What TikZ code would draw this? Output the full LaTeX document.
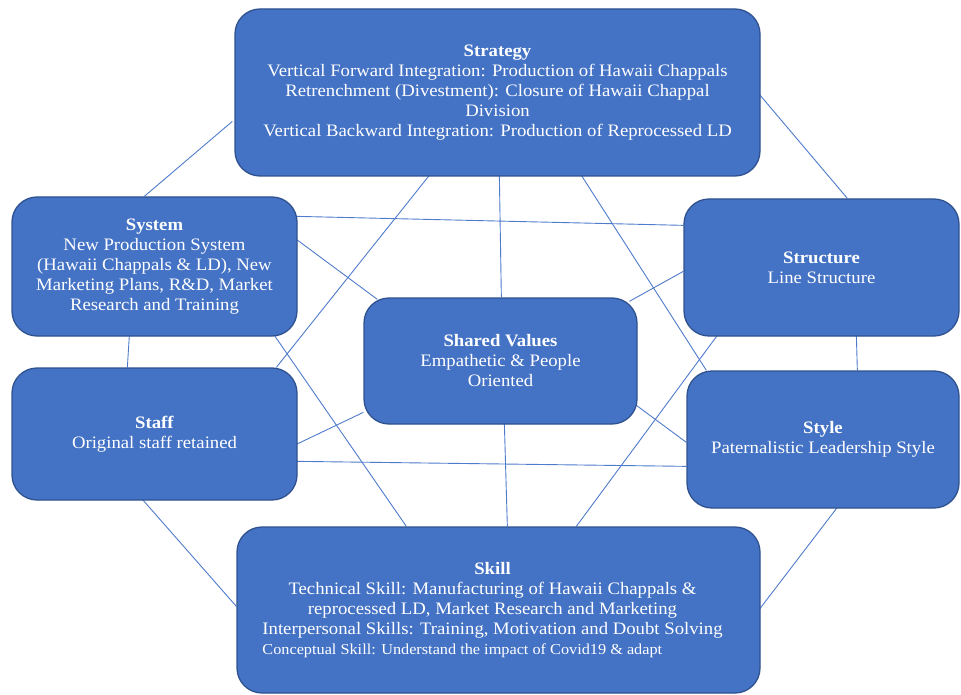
\documentclass[tikz,border=0pt]{standalone}
\usepackage{fontspec}
\setmainfont{Liberation Serif}[FakeStretch=1.07]
\usetikzlibrary{calc}
\pgfdeclarelayer{bg}
\pgfsetlayers{bg,main}
\definecolor{boxfill}{HTML}{4472C4}
\definecolor{boxline}{HTML}{2F528F}
\definecolor{conn}{HTML}{4F7BCB}
\tikzset{
  sbox/.style={draw=boxline, line width=1.3pt, fill=boxfill, rounded corners=25pt,
    text=white, align=center, inner sep=0pt, font=\fontsize{17.5}{20}\selectfont},
  link/.style={draw=conn, line width=0.9pt}
}
\begin{document}
\begin{tikzpicture}[x=1pt,y=-1pt]
\useasboundingbox (0,0) rectangle (961,695);
\node[sbox, minimum width=525pt, minimum height=167pt] (strat) at (497.5,92.5)
 {\textbf{Strategy}\\Vertical Forward Integration: Production of Hawaii Chappals\\Retrenchment (Divestment): Closure of Hawaii Chappal\\Division\\Vertical Backward Integration: Production of Reprocessed LD};
\node[sbox, minimum width=285pt, minimum height=139pt] (sys) at (154.5,266.5)
 {\textbf{System}\\New Production System\\(Hawaii Chappals \& LD), New\\Marketing Plans, R\&D, Market\\Research and Training};
\node[sbox, minimum width=275pt, minimum height=137pt] (struct) at (821.5,267.5)
 {\textbf{Structure}\\Line Structure};
\node[sbox, minimum width=273pt, minimum height=126pt] (sv) at (500.5,361)
 {\textbf{Shared Values}\\Empathetic \& People\\Oriented};
\node[sbox, minimum width=285pt, minimum height=132pt] (staff) at (154.5,434)
 {\textbf{Staff}\\Original staff retained};
\node[sbox, minimum width=272pt, minimum height=137pt] (style) at (823,439.5)
 {\textbf{Style}\\Paternalistic Leadership Style};
\node[sbox, minimum width=523pt, minimum height=166pt] (skill) at (498.5,610)
 {\begin{tabular}{@{}c@{}}\textbf{Skill}\\Technical Skill: Manufacturing of Hawaii Chappals \&\\reprocessed LD, Market Research and Marketing\\Interpersonal Skills: Training, Motivation and Doubt Solving\\
 \setbox0\hbox{Interpersonal Skills: Training, Motivation and Doubt Solving}\makebox[\wd0][l]{\fontsize{15.2}{20}\selectfont Conceptual Skill: Understand the impact of Covid19 \& adapt}\end{tabular}\rule{12pt}{0pt}};
\begin{pgfonlayer}{bg}
\draw[link] ($(strat.north west)+(-2,113)$) -- ($(sys.north west)+(133,0)$);
\draw[link] ($(strat.north west)+(525,86)$) -- ($(struct.north west)+(164,0)$);
\draw[link] ($(strat.north west)+(195,167)$) -- ($(staff.north west)+(265,0)$);
\draw[link] ($(strat.north west)+(265,167)$) -- ($(sv.north west)+(138,0)$);
\draw[link] ($(strat.north west)+(347,167)$) -- ($(style.north west)+(20,0)$);
\draw[link] ($(sys.north west)+(285,20)$) -- ($(struct.north west)+(0,27)$);
\draw[link] ($(sys.north west)+(285,43)$) -- ($(sv.north west)+(14,2)$);
\draw[link] ($(sys.north west)+(263,139)$) -- ($(skill.north west)+(170,0)$);
\draw[link] ($(sys.north west)+(118,139)$) -- ($(staff.north west)+(116,0)$);
\draw[link] ($(struct.north west)+(0,73)$) -- ($(sv.north west)+(266,4)$);
\draw[link] ($(struct.north west)+(34,137)$) -- ($(skill.north west)+(340,0)$);
\draw[link] ($(struct.north west)+(173,137)$) -- ($(style.north west)+(171,0)$);
\draw[link] ($(style.north west)+(0,72)$) -- ($(sv.north west)+(273,108)$);
\draw[link] ($(style.north west)+(0,96)$) -- ($(staff.north west)+(285,94)$);
\draw[link] ($(style.north west)+(151,137)$) -- ($(skill.north west)+(523,83)$);
\draw[link] ($(staff.north west)+(285,77)$) -- ($(sv.north west)+(0,115)$);
\draw[link] ($(staff.north west)+(131,132)$) -- ($(skill.north west)+(0,80)$);
\draw[link] ($(sv.north west)+(141,126)$) -- ($(skill.north west)+(271,0)$);
\end{pgfonlayer}
\end{tikzpicture}
\end{document}
